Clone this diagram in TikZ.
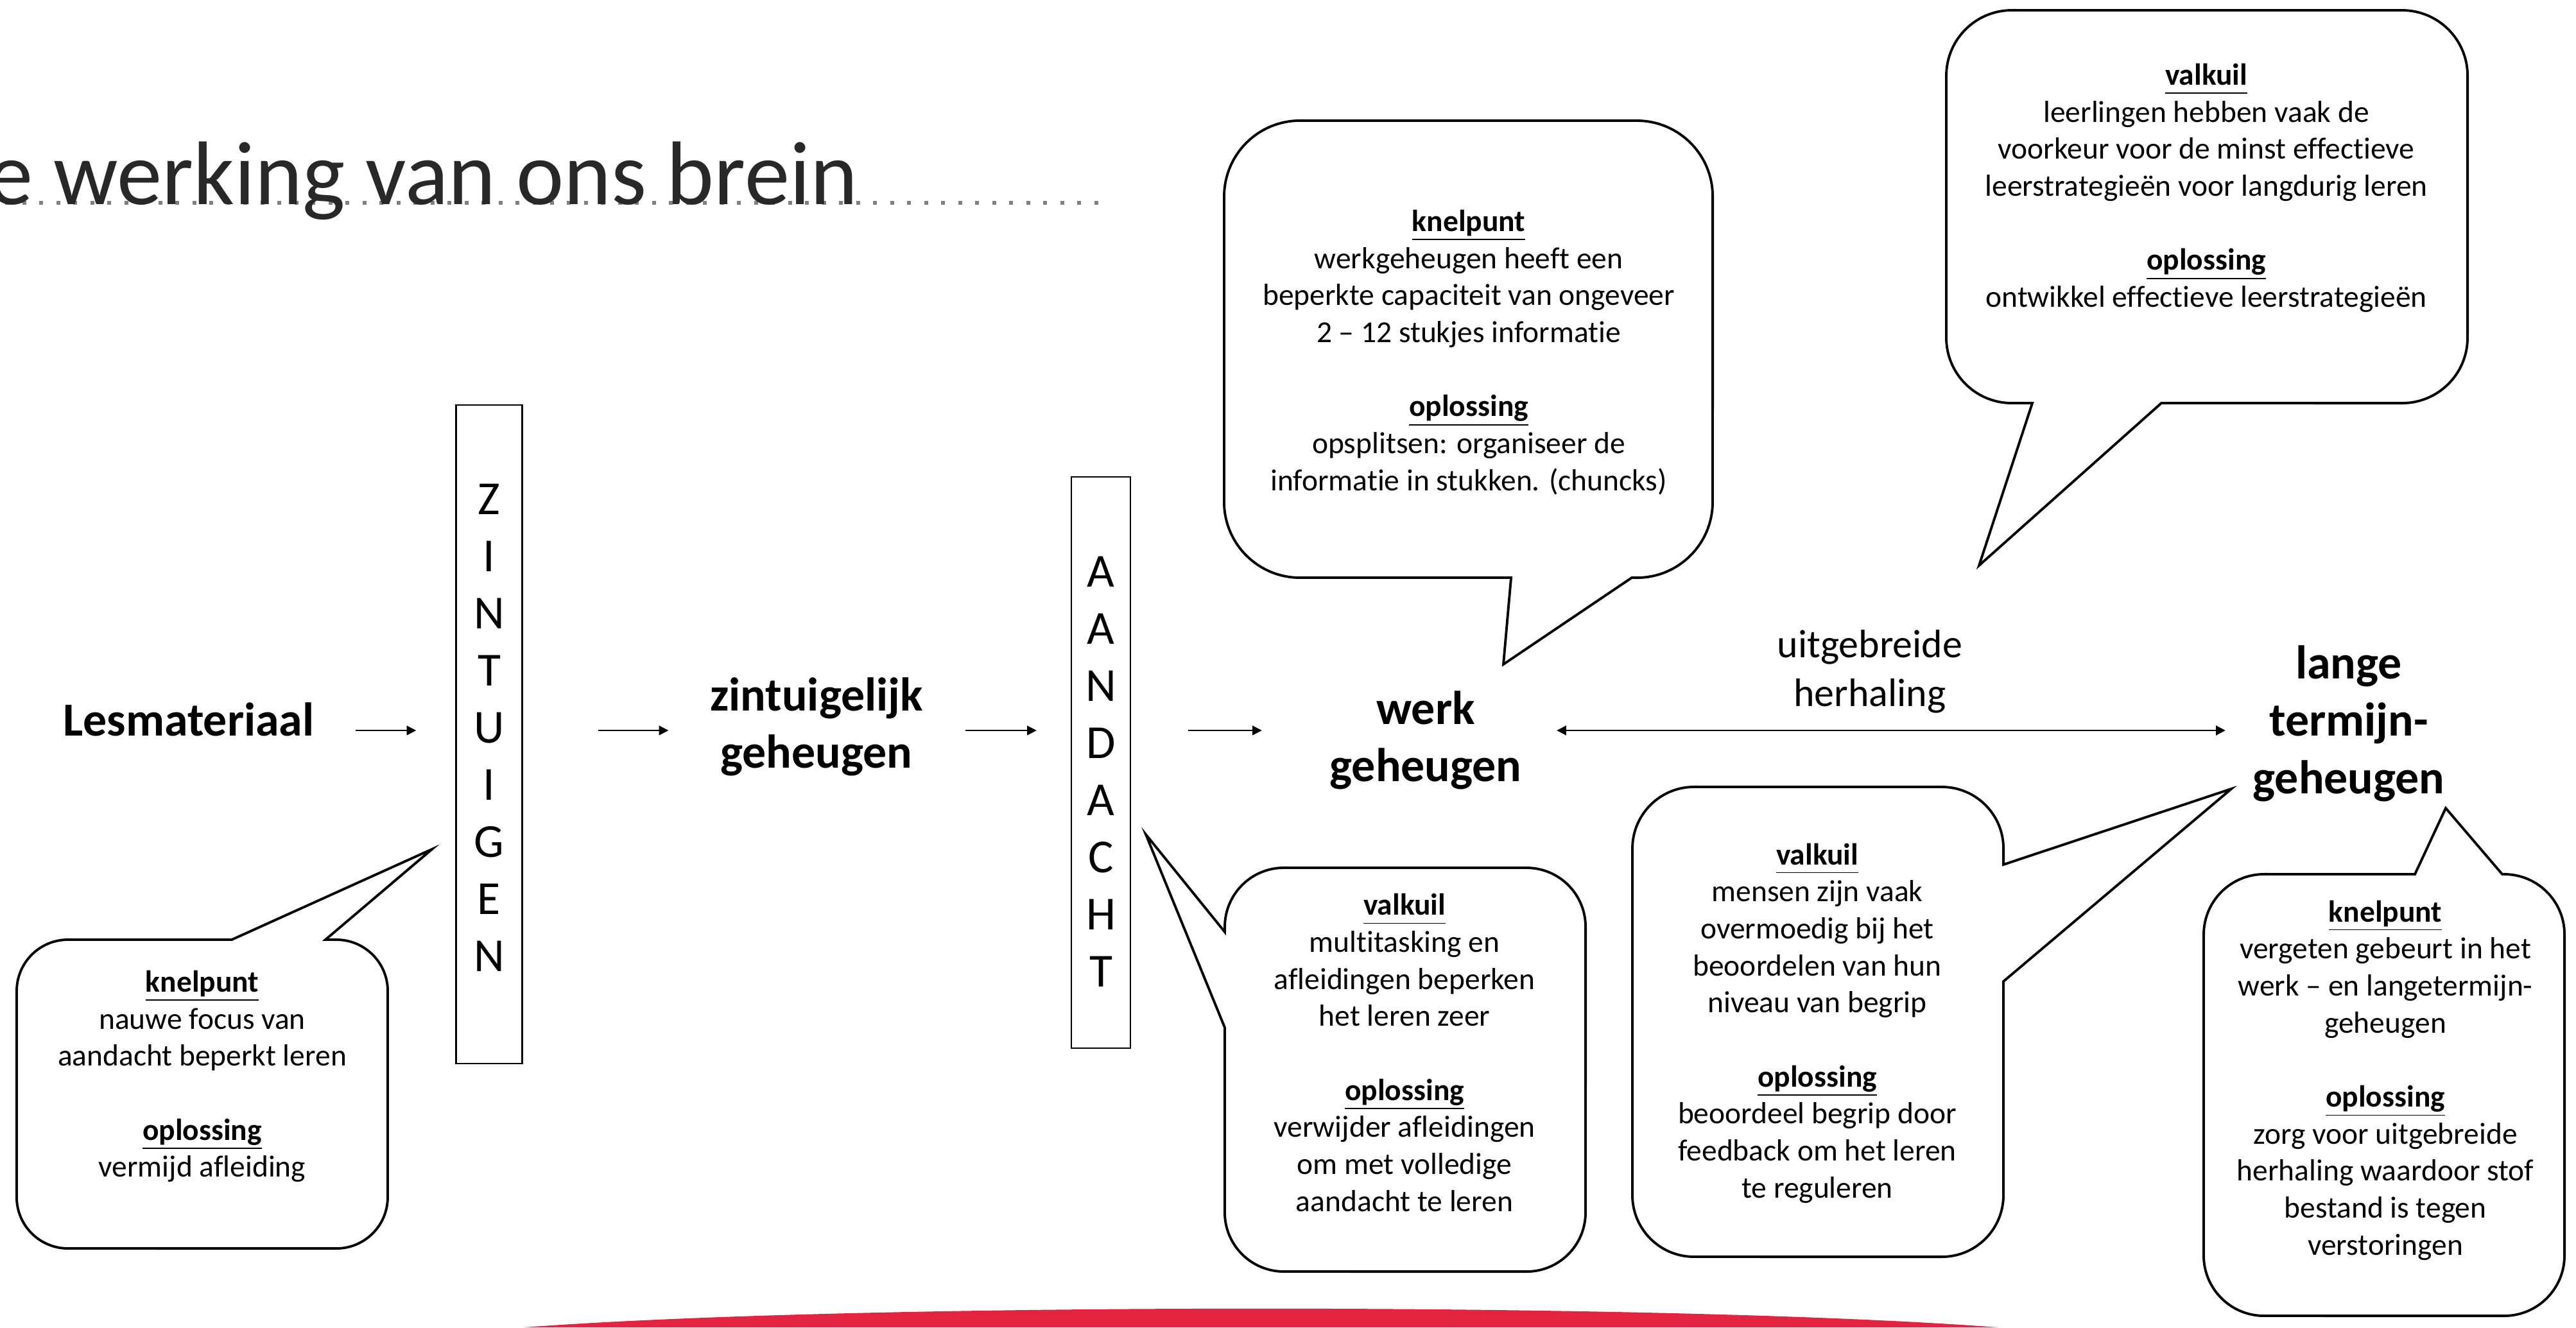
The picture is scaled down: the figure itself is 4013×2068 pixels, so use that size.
\documentclass[tikz,border=0pt]{standalone}
\usepackage{fontspec}
\setmainfont{Carlito}[Ligatures={NoCommon}]
\usetikzlibrary{arrows.meta}
\definecolor{redc}{RGB}{227,36,64}
\definecolor{titlec}{RGB}{40,40,40}
\definecolor{dotc}{RGB}{128,128,128}
\newcommand\hd[1]{\underline{\textbf{#1}\vphantom{p}}}
\tikzset{
  lbl/.style={font=\fontsize{21}{25.4}\selectfont\bfseries, align=center, inner sep=0pt},
  lbltxt/.style={font=\fontsize{17.6}{21.6}\selectfont, align=center, inner sep=0pt},
  btxt/.style={font=\fontsize{13.5}{16.4}\selectfont, align=center, inner sep=0pt},
  bub/.style={draw=black, line width=1.1pt, fill=white, line join=miter},
  vbox/.style={draw=black, line width=0.65pt, inner sep=0pt},
  vlet/.style={font=\fontsize{21}{25.3}\selectfont, align=center, inner sep=0pt},
  arr/.style={-{Triangle[length=4.2pt,width=4.2pt]}, line width=0.6pt},
  darr/.style={{Triangle[length=4.2pt,width=4.2pt]}-{Triangle[length=4.2pt,width=4.2pt]}, line width=0.8pt},
}
\begin{document}
\begin{tikzpicture}[x=0.01cm, y=-0.01cm]
\useasboundingbox (0,0) rectangle (4013,2068);
\clip (0,0) rectangle (4013,2068);

% title
\draw[dotc, line width=0.06cm, dash pattern=on 0.06cm off 0.205cm] (8,316) -- (1712,316);
\node[anchor=base west, inner sep=0pt, font=\fontsize{40}{48}\selectfont, text=titlec] (title) at (-106,318) {De werking van ons brein};

% red shape at bottom
\fill[redc] (816,2068) .. controls (1330,2029) and (2600,2029) .. (3113,2068) -- cycle;

% main flow
\node[lbl] (les) at (294,1121) {Lesmateriaal};
\node[vbox, minimum width=1.03cm, minimum height=10.26cm] (zin) at (762,1144) {};
\node[vlet] (zinlet) at (762,1134) {Z\\I\\N\\T\\U\\I\\G\\E\\N};
\node[lbl] (zig) at (1272,1132) {zintuigelijk\\geheugen};
\node[vbox, minimum width=0.92cm, minimum height=8.89cm] (aan) at (1715,1188) {};
\node[vlet] (aanlet) at (1715,1202) {A\\A\\N\\D\\A\\C\\H\\T};
\node[lbl] (werk) at (2221,1153) {werk\\geheugen};
\node[lbltxt] (uh) at (2913,1046) {uitgebreide\\herhaling};
\node[lbl] (lange) at (3659,1127) {lange\\termijn-\\geheugen};

\coordinate (ay) at (0,1138);
\draw[arr, shorten <=0.64cm, shorten >=0.61cm] (les.east |- ay) -- (zin.west |- ay);
\draw[arr, shorten <=1.17cm, shorten >=0.64cm] (zin.east |- ay) -- (zig.west |- ay);
\draw[arr, shorten <=0.65cm, shorten >=0.53cm] (zig.east |- ay) -- (aan.west |- ay);
\draw[arr, shorten <=0.89cm, shorten >=1.05cm] (aan.east |- ay) -- (werk.west |- ay);
\draw[darr, shorten <=0.54cm, shorten >=0.42cm] (werk.east |- ay) -- (lange.west |- ay);

% bubble 1 (knelpunt, nauwe focus)
\draw[bub] (106,1464) -- (361,1464) -- (673,1323) -- (507,1464) -- (524,1464)
  arc[start angle=90,end angle=0,radius=0.8cm] -- (604,1865)
  arc[start angle=0,end angle=-90,radius=0.8cm] -- (106,1945)
  arc[start angle=270,end angle=180,radius=0.8cm] -- (26,1544)
  arc[start angle=180,end angle=90,radius=0.8cm] -- cycle;
\node[btxt] (t1) at (315,1677) {\hd{knelpunt}\\nauwe focus van\\aandacht beperkt leren\\[16.4pt]\hd{oplossing}\\vermijd afleiding};

% bubble 2 (knelpunt werkgeheugen)
\draw[bub] (2025,188) -- (2550,188)
  arc[start angle=90,end angle=0,radius=1.18cm] -- (2668,782)
  arc[start angle=0,end angle=-90,radius=1.18cm] -- (2542,900) -- (2342,1035) -- (2354,900) -- (2025,900)
  arc[start angle=270,end angle=180,radius=1.18cm] -- (1907,306)
  arc[start angle=180,end angle=90,radius=1.18cm] -- cycle;
\node[btxt] (t2) at (2288,549) {\hd{knelpunt}\\werkgeheugen heeft een\\beperkte capaciteit van ongeveer\\2 – 12 stukjes informatie\\[16.4pt]\hd{oplossing}\\opsplitsen: organiseer de\\informatie in stukken. (chuncks)};

% bubble 3 (valkuil leerstrategieen)
\draw[bub] (3134,16) -- (3742,16)
  arc[start angle=90,end angle=0,radius=1.02cm] -- (3844,526)
  arc[start angle=0,end angle=-90,radius=1.02cm] -- (3367,628) -- (3083,881) -- (3166,628) -- (3134,628)
  arc[start angle=270,end angle=180,radius=1.02cm] -- (3032,118)
  arc[start angle=180,end angle=90,radius=1.02cm] -- cycle;
\node[btxt] (t3) at (3437,293) {\hd{valkuil}\\leerlingen hebben vaak de\\voorkeur voor de minst effectieve\\leerstrategieën voor langdurig leren\\[16.4pt]\hd{oplossing}\\ontwikkel effectieve leerstrategieën};

% bubble 4 (valkuil multitasking)
\draw[bub] (2000,1352) -- (2378,1352)
  arc[start angle=90,end angle=0,radius=0.92cm] -- (2470,1889)
  arc[start angle=0,end angle=-90,radius=0.92cm] -- (2000,1981)
  arc[start angle=270,end angle=180,radius=0.92cm] -- (1908,1601) -- (1785,1300) -- (1908,1452) -- (1908,1444)
  arc[start angle=180,end angle=90,radius=0.92cm] -- cycle;
\node[btxt] (t4) at (2188,1640) {\hd{valkuil}\\multitasking en\\afleidingen beperken\\het leren zeer\\[16.4pt]\hd{oplossing}\\verwijder afleidingen\\om met volledige\\aandacht te leren};

% bubble 5 (valkuil overmoedig)
\draw[bub] (2639,1226) -- (3025,1226)
  arc[start angle=90,end angle=0,radius=0.96cm] -- (3121,1347) -- (3476,1229) -- (3121,1529) -- (3121,1862)
  arc[start angle=0,end angle=-90,radius=0.96cm] -- (2639,1958)
  arc[start angle=270,end angle=180,radius=0.96cm] -- (2543,1322)
  arc[start angle=180,end angle=90,radius=0.96cm] -- cycle;
\node[btxt] (t5) at (2831,1594) {\hd{valkuil}\\mensen zijn vaak\\overmoedig bij het\\beoordelen van hun\\niveau van begrip\\[16.4pt]\hd{oplossing}\\beoordeel begrip door\\feedback om het leren\\te reguleren};

% bubble 6 (knelpunt vergeten)
\draw[bub] (3527,1362) -- (3762,1362) -- (3810,1259) -- (3898,1362) -- (3901,1362)
  arc[start angle=90,end angle=0,radius=0.94cm] -- (3995,1956)
  arc[start angle=0,end angle=-90,radius=0.94cm] -- (3527,2050)
  arc[start angle=270,end angle=180,radius=0.94cm] -- (3433,1456)
  arc[start angle=180,end angle=90,radius=0.94cm] -- cycle;
\node[btxt] (t6) at (3716,1683) {\hd{knelpunt}\\vergeten gebeurt in het\\werk – en langetermijn-\\geheugen\\[16.4pt]\hd{oplossing}\\zorg voor uitgebreide\\herhaling waardoor stof\\bestand is tegen\\verstoringen};
\end{tikzpicture}
\end{document}
